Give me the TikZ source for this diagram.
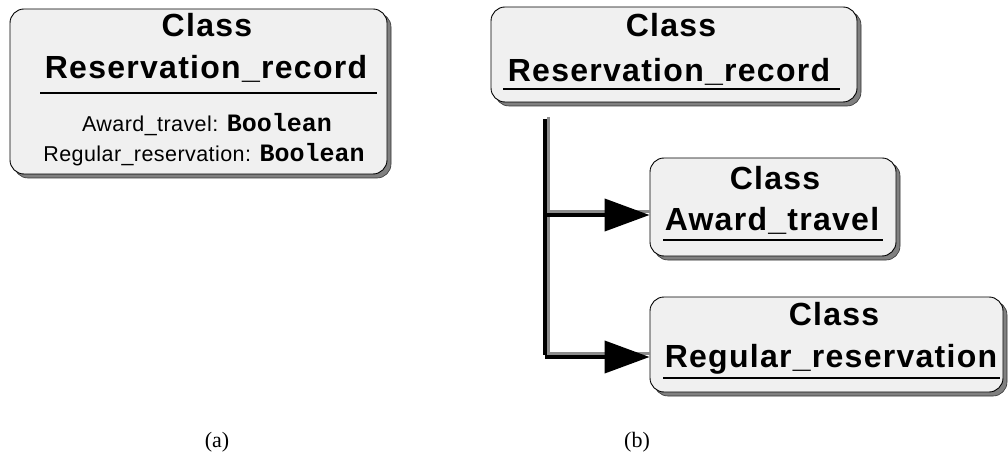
\documentclass[tikz,border=0pt]{standalone}
\usepackage{fontspec}
\setmainfont{Liberation Serif}
\newfontfamily\titlefont[LetterSpace=4]{Liberation Sans}
\newfontfamily\attrfont[LetterSpace=2]{Liberation Sans}
\newfontfamily\typefont{Liberation Mono}
\usetikzlibrary{shadows,arrows.meta}
\tikzset{
  classbox/.style={draw=black, line width=0.9pt, fill=black!6, rounded corners=14pt,
    inner sep=0pt,
    drop shadow={shadow xshift=4pt, shadow yshift=-4pt, fill=black!50, opacity=1, draw=black!80, line width=0.6pt}},
  titletext/.style={anchor=base, inner sep=0pt, font=\titlefont\bfseries\fontsize{32}{34}\selectfont},
  attrtext/.style={anchor=base, inner sep=0pt, font=\attrfont\fontsize{21.5}{24}\selectfont},
  rule/.style={line width=2pt},
  trunk/.style={line width=4pt, black},
  trunkshade/.style={line width=3pt, black!45},
  caption/.style={anchor=base, inner sep=0pt, font=\fontsize{22}{24}\selectfont},
}
\newcommand{\booltype}{{\typefont\bfseries\fontsize{25}{27}\selectfont Boolean}}
\begin{document}
\begin{tikzpicture}[x=1pt, y=-1pt]
\useasboundingbox (0,0) rectangle (1008,454);

% (a) single class with two Boolean attributes
\node[classbox, minimum width=377pt, minimum height=165pt] (recA) at (198.5,91.5) {};
\node[titletext] (recAc) at (207,37) {Class};
\node[titletext] (recAn) at (206,79) {Reservation\_record};
\draw[rule] (40,93) -- (377,93);
\node[attrtext] (attr1) at (207,132) {Award\_travel: \booltype};
\node[attrtext] (attr2) at (204,162) {Regular\_reservation: \booltype};

% (b) class hierarchy
\node[classbox, minimum width=366pt, minimum height=95pt] (recB) at (674,54.5) {};
\node[titletext] (recBc) at (671,37) {Class};
\node[titletext] (recBn) at (669,82) {Reservation\_record};
\draw[rule] (503,89) -- (840,89);

\node[classbox, minimum width=246pt, minimum height=98pt] (award) at (773,207) {};
\node[titletext] (awardc) at (775,190) {Class};
\node[titletext] (awardn) at (772,231) {Award\_travel};
\draw[rule] (663,240) -- (883,240);

\node[classbox, minimum width=353pt, minimum height=95pt] (regular) at (826.5,344.5) {};
\node[titletext] (regularc) at (834,325) {Class};
\node[titletext] (regularn) at (831,367) {Regular\_reservation};
\draw[rule] (663,378) -- (1000,378);

% connectors
\coordinate (ttop) at (545,117);
\coordinate (j1) at (545,215);
\coordinate (j2) at (545,357);
\draw[trunkshade] ([xshift=3.5pt]ttop) -- ([xshift=3.5pt]j2);
\draw[trunkshade] ([yshift=3.5pt]j1) -- ([yshift=3.5pt]j1 -| award.west);
\draw[trunkshade] ([yshift=3.5pt]j2) -- ([yshift=3.5pt]j2 -| regular.west);
\draw[trunk] ([yshift=-2pt]ttop) -- ([yshift=2pt]j2);
\draw[trunk, -{Triangle[length=45pt, width=32pt]}] (j1) -- (j1 -| award.west);
\draw[trunk, -{Triangle[length=45pt, width=32pt]}] (j2) -- (j2 -| regular.west);

% captions
\node[caption] (capa) at (217,447) {(a)};
\node[caption] (capb) at (637,447) {(b)};
\end{tikzpicture}
\end{document}
